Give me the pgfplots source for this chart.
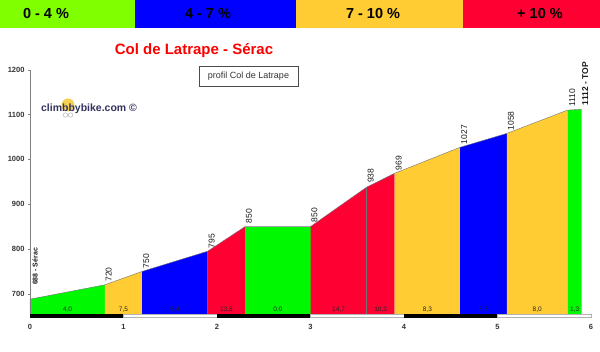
\documentclass[border=0pt]{standalone}
\usepackage{fontspec}
\setmainfont{Liberation Sans}
\usepackage{pgfplots}
\pgfplotsset{compat=1.18}
\definecolor{lgreen}{RGB}{128,255,0}
\definecolor{pgreen}{RGB}{0,248,0}
\definecolor{pblue}{RGB}{0,0,255}
\definecolor{porange}{RGB}{255,204,51}
\definecolor{pred}{RGB}{255,0,51}
\definecolor{navy}{RGB}{50,50,95}
\definecolor{logoyellow}{RGB}{245,200,50}
\begin{document}
\begin{tikzpicture}[x=1pt,y=1pt]
\begin{axis}[name=ax, scale only axis,
  width=561pt, height=248.2pt,
  xmin=0, xmax=6, ymin=646, ymax=1200,
  axis line style={draw=none},
  xtick={0,1,2,3,4,5,6}, ytick={700,800,900,1000,1100,1200},
  xtick pos=bottom, ytick pos=left, tick align=outside,
  major tick length=2pt,
  xtick style={draw=none}, ytick style={gray, thin},
  /pgf/number format/assume math mode=true,
  /pgf/number format/1000 sep={},
  ticklabel style={font=\fontsize{7.5}{8}\selectfont\bfseries, text=black!80},
  xticklabel style={yshift=-1pt},
  clip=false]
\coordinate (O) at (axis cs:0,646);
% fills
\addplot[fill=pgreen, draw=none] coordinates {(0,654) (0,688) (0.8,720) (0.8,654)} -- cycle;
\addplot[fill=porange, draw=none] coordinates {(0.8,654) (0.8,720) (1.2,750) (1.2,654)} -- cycle;
\addplot[fill=pblue, draw=none] coordinates {(1.2,654) (1.2,750) (1.9,795) (1.9,654)} -- cycle;
\addplot[fill=pred, draw=none] coordinates {(1.9,654) (1.9,795) (2.3,850) (2.3,654)} -- cycle;
\addplot[fill=pgreen, draw=none] coordinates {(2.3,654) (2.3,850) (3.0,850) (3.0,654)} -- cycle;
\addplot[fill=pred, draw=none] coordinates {(3.0,654) (3.0,850) (3.6,938) (3.6,654)} -- cycle;
\addplot[fill=pred, draw=none] coordinates {(3.6,654) (3.6,938) (3.9,969) (3.9,654)} -- cycle;
\addplot[fill=porange, draw=none] coordinates {(3.9,654) (3.9,969) (4.6,1027) (4.6,654)} -- cycle;
\addplot[fill=pblue, draw=none] coordinates {(4.6,654) (4.6,1027) (5.1,1058) (5.1,654)} -- cycle;
\addplot[fill=porange, draw=none] coordinates {(5.1,654) (5.1,1058) (5.75,1110) (5.75,654)} -- cycle;
\addplot[fill=pgreen, draw=none] coordinates {(5.75,654) (5.75,1110) (5.9,1112) (5.9,654)} -- cycle;
% outline
\addplot[black!55, line width=0.4pt] coordinates {(0,688) (0.8,720) (1.2,750) (1.9,795) (2.3,850) (3.0,850) (3.6,938) (3.9,969) (4.6,1027) (5.1,1058) (5.75,1110) (5.9,1112)};
\addplot[black!55, line width=0.4pt] coordinates {(3.6,654) (3.6,938)};
% y axis line
\draw[gray, thin] (axis cs:0,1200) -- (axis cs:0,654);
% km strip
\fill[black] (axis cs:0,647) rectangle (axis cs:1,654);
\draw[gray!60, fill=white] (axis cs:1,647) rectangle (axis cs:2,654);
\fill[black] (axis cs:2,647) rectangle (axis cs:3,654);
\draw[gray!60, fill=white] (axis cs:3,647) rectangle (axis cs:4,654);
\fill[black] (axis cs:4,647) rectangle (axis cs:5,654);
\draw[gray!60, fill=white] (axis cs:5,647) rectangle (axis cs:6,654);
% gradient labels
\begin{scope}[font=\fontsize{6.5}{7}\selectfont, text=black!85]
\node at (axis cs:0.4,665) {4,0};
\node at (axis cs:1.0,665) {7,5};
\node at (axis cs:1.55,665) {6,4};
\node at (axis cs:2.1,665) {13,8};
\node at (axis cs:2.65,665) {0,0};
\node at (axis cs:3.3,665) {14,7};
\node at (axis cs:3.75,665) {10,3};
\node at (axis cs:4.25,665) {8,3};
\node at (axis cs:4.85,665) {6,2};
\node at (axis cs:5.425,665) {8,0};
\node at (axis cs:5.825,665) {1,3};
\end{scope}
% altitude labels
\begin{scope}[every node/.style={rotate=90, anchor=west, inner sep=0pt, font=\fontsize{8.5}{9}\selectfont, text=black!90}]
\node[font=\fontsize{7}{8}\selectfont\bfseries] at ([xshift=5pt,yshift=14pt]axis cs:0,688) {688 - Sérac};
\node at ([xshift=4pt,yshift=3pt]axis cs:0.8,720) {720};
\node at ([xshift=4pt,yshift=3pt]axis cs:1.2,750) {750};
\node at ([xshift=4pt,yshift=3pt]axis cs:1.9,795) {795};
\node at ([xshift=4pt,yshift=3pt]axis cs:2.3,850) {850};
\node at ([xshift=4pt,yshift=4pt]axis cs:3.0,850) {850};
\node at ([xshift=4pt,yshift=4pt]axis cs:3.6,938) {938};
\node at ([xshift=4pt,yshift=3pt]axis cs:3.9,969) {969};
\node at ([xshift=4pt,yshift=3pt]axis cs:4.6,1027) {1027};
\node at ([xshift=4pt,yshift=3pt]axis cs:5.1,1058) {1058};
\node at ([xshift=4.5pt,yshift=3pt]axis cs:5.75,1110) {1110};
\node[font=\fontsize{8.5}{9}\selectfont\bfseries] at ([xshift=3.5pt,yshift=4pt]axis cs:5.9,1112) {1112 - TOP};
\end{scope}
\end{axis}
\begin{scope}[shift={(O)}, shift={(-30,-34)}]
% legend band
\fill[lgreen] (0,324) rectangle (135,352);
\fill[pblue] (135,324) rectangle (296,352);
\fill[porange] (296,324) rectangle (463,352);
\fill[pred] (463,324) rectangle (600,352);
\begin{scope}[font=\fontsize{14.5}{16}\selectfont\bfseries]
\node at (46,338) {0 - 4 \%};
\node at (208,338) {4 - 7 \%};
\node at (373,338) {7 - 10 \%};
\node at (540,338) {+ 10 \%};
\end{scope}
% title
\node[text=red, font=\fontsize{15}{17}\selectfont\bfseries] at (194,301) {Col de Latrape - Sérac};
% profile box
\draw[black!70, line width=0.7pt] (199,266) rectangle (298,286);
\node[text=black!80, font=\fontsize{9}{10}\selectfont] at (248.5,276) {profil Col de Latrape};
% logo
\fill[logoyellow, opacity=0.85] (68,247) circle (6.5);
\draw[gray!50, line width=0.6pt] (65.5,237) circle (2.2) (70.5,237) circle (2.2);
\node[text=navy, font=\fontsize{10.5}{12}\selectfont\bfseries] at (89,243) {climbbybike.com ©};
\end{scope}
\pgfresetboundingbox
\path[use as bounding box, shift={(O)}, shift={(-30,-34)}] (0,0) rectangle (600,352);
\end{tikzpicture}
\end{document}
